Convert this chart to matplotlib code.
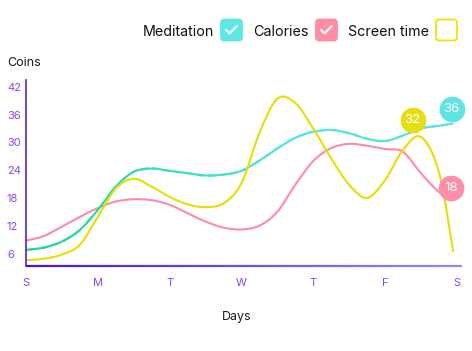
import matplotlib
matplotlib.use('Agg')
import numpy as np
import matplotlib.pyplot as plt
import matplotlib.transforms as mtransforms
from matplotlib.path import Path
from matplotlib.patches import PathPatch, Rectangle, FancyBboxPatch
from matplotlib.collections import LineCollection
from matplotlib.lines import Line2D
from matplotlib.colors import to_rgb

plt.rcParams['font.family'] = ['Inter', 'DejaVu Sans']

W, H = 472, 351

days = ['S', 'M', 'T', 'W', 'T', 'F', 'S']
coin_ticks = [6, 12, 18, 24, 30, 36, 42]

# readings taken every quarter day, the last one just short of Saturday
x_pos = [0, 0.25, 0.5, 0.75, 1, 1.25, 1.5, 1.75, 2, 2.25, 2.5, 2.75, 3,
         3.25, 3.5, 3.75, 4, 4.25, 4.5, 4.75, 5, 5.25, 5.5, 5.75, 5.95]
meditation = [6.9, 7.4, 8.7, 11.2, 15.5, 20.5, 23.7, 24.4, 23.9, 23.4, 22.9, 23.1, 23.9,
              26.1, 28.7, 31.0, 32.3, 32.7, 32.0, 30.8, 30.3, 31.5, 33.0, 33.6, 34.1]
calories = [8.9, 9.9, 11.9, 14.0, 15.9, 17.3, 17.8, 17.6, 16.6, 14.8, 13.0, 11.7, 11.3,
            12.1, 15.1, 20.9, 26.0, 28.8, 29.7, 29.3, 28.6, 28.0, 23.4, 19.4, 18.0]
screen_time = [4.7, 5.0, 5.9, 8.0, 14.0, 20.1, 22.2, 20.5, 18.3, 16.7, 16.1, 16.9, 21.2,
               32.0, 39.4, 38.5, 33.0, 26.6, 20.9, 18.1, 21.9, 28.4, 31.2, 23.7, 6.5]

legend_names = ['Meditation', 'Calories', 'Screen time']
bubble_labels = ['36', '32', '18']

teal_a = '#14d896'
teal_b = '#55e4e2'
pink = '#ff8ba6'
yellow = '#e8df00'
purple = '#8a47f2'


def smooth_path(xs, ys):
    # catmull-rom through the readings, as cubic bezier pieces
    pts = np.column_stack([xs, ys]).astype(float)
    n = len(pts)
    verts = [pts[0]]
    codes = [Path.MOVETO]
    for i in range(n - 1):
        p0 = pts[max(i - 1, 0)]
        p1 = pts[i]
        p2 = pts[i + 1]
        p3 = pts[min(i + 2, n - 1)]
        verts += [p1 + (p2 - p0) / 6, p2 - (p3 - p1) / 6, p2]
        codes += [Path.CURVE4] * 3
    return Path(verts, codes)


def draw_curve(ax, path, color, lw=1.5):
    ax.add_patch(PathPatch(path, fc='none', ec=color, lw=lw, capstyle='butt'))


def draw_gradient_curve(ax, path, c0, c1, x0, x1, n=40, lw=1.5):
    edges = np.linspace(x0, x1, n + 1)
    step = edges[1] - edges[0]
    a, b = np.array(to_rgb(c0)), np.array(to_rgb(c1))
    for i in range(n):
        t = min(i / (n * 0.6), 1.0)
        p = PathPatch(path, fc='none', ec=(1 - t) * a + t * b, lw=lw, capstyle='butt')
        ax.add_patch(p)
        p.set_clip_path(Rectangle((edges[i], -100), step * 1.6, 300, transform=ax.transData))


fig = plt.figure(figsize=(W / 100, H / 100), dpi=100)
ax = fig.add_axes([26 / W, (H - 266) / H, 433 / W, 186 / H])

draw_curve(ax, smooth_path(x_pos, calories), pink)
draw_gradient_curve(ax, smooth_path(x_pos, meditation), teal_a, teal_b, -0.1, 6.1)
draw_curve(ax, smooth_path(x_pos, screen_time), yellow)

ax.set_xlim(0, 433 / 71.8)
ax.set_ylim(3.44, 43.44)
ax.set_xticks(range(len(days)))
ax.set_xticklabels(days)
ax.set_yticks(coin_ticks)
ax.tick_params(axis='both', length=0, labelsize=8, labelcolor=purple)
ax.tick_params(axis='x', pad=8.4)
ax.tick_params(axis='y', pad=13.7)
for lab in ax.get_yticklabels():
    lab.set_horizontalalignment('left')

for s in ['top', 'right', 'bottom']:
    ax.spines[s].set_visible(False)
ax.spines['left'].set_color('#5a1de6')
ax.spines['left'].set_linewidth(1.2)

# bottom axis line fades from deep to light violet
bx = np.linspace(0, 1.006, 60)
segs = [[(bx[i], 0), (bx[i + 1], 0)] for i in range(len(bx) - 1)]
ca, cb = np.array(to_rgb('#4b12e2')), np.array(to_rgb('#9c86f2'))
cols = [(1 - t) * ca + t * cb for t in np.linspace(0, 1, len(segs))]
ax.add_collection(LineCollection(segs, colors=cols, linewidths=1.6,
                                 transform=ax.transAxes, clip_on=False))

fig.text(7 / W, 1 - 66.5 / H, 'Coins', fontsize=9, color='#1a1a1a', ha='left', va='baseline')
fig.text(237 / W, 1 - 320 / H, 'Days', fontsize=9, color='#1a1a1a', ha='center', va='baseline')

# value bubbles, lifted a little above the line
anchors = [(x_pos[-1], meditation[-1], -1.5, 14, '#5ce5e2'),
           (x_pos[22], screen_time[22], -8.3, 17, '#e6dd12'),
           (x_pos[-1], calories[-1], -2.3, 10.6, '#ff8fa8')]
for lab, (bx_, by_, dx, dy, col) in zip(bubble_labels, anchors):
    tr = ax.transData + mtransforms.ScaledTranslation(dx / 100, dy / 100, fig.dpi_scale_trans)
    ax.plot([bx_], [by_], 'o', ms=18.5, color=col, mec='none', transform=tr, clip_on=False, zorder=5)
    ax.text(bx_, by_, lab, transform=tr, ha='center', va='center', color='white',
            fontsize=9.5, zorder=6)

# legend with checkbox squares
ident = mtransforms.IdentityTransform()
box_left = [221, 316, 436]
text_right = [214, 309, 429]
box_fill = ['#5ce8e4', '#ff8da4', 'white']
box_edge = ['#5ce8e4', '#ff8da4', '#f0e400']
checked = [True, True, False]
for name, bl, tr_, fc, ec, chk in zip(legend_names, box_left, text_right, box_fill, box_edge, checked):
    fig.text(tr_ / W, 1 - 35.7 / H, name, fontsize=10.3, color='#111111', ha='right', va='baseline')
    fig.add_artist(FancyBboxPatch((bl, H - 40.5), 21, 21, boxstyle='round,pad=0,rounding_size=3',
                                  fc=fc, ec=ec, lw=1.3, transform=ident))
    if chk:
        fig.add_artist(Line2D([bl + 5, bl + 8.6, bl + 15.8], [H - 30, H - 33.4, H - 26],
                              color='white', lw=1.6, solid_capstyle='round',
                              solid_joinstyle='round', transform=ident))

fig.savefig('out.png', dpi=100)
